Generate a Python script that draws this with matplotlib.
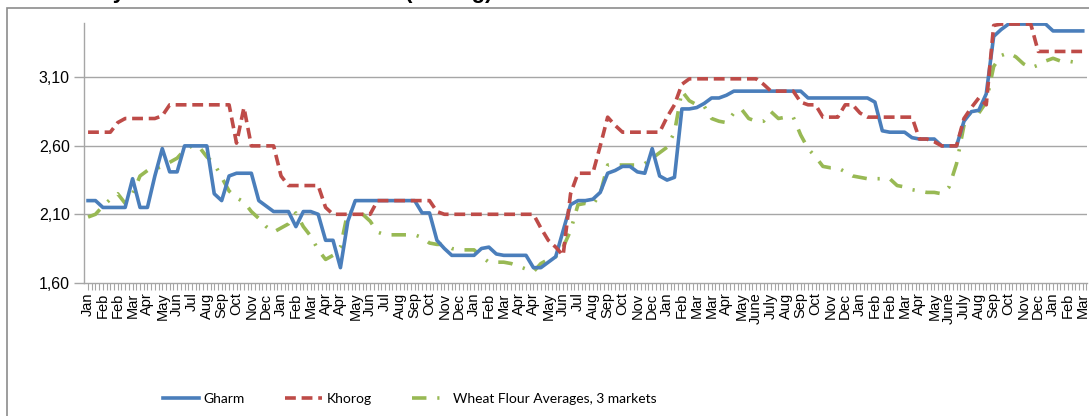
import numpy as np
import matplotlib
matplotlib.use('Agg')
import matplotlib.pyplot as plt
from matplotlib.patches import Rectangle

# ===================== DATA =====================
# month label every 4 weeks, one value every 2 weeks
month_labels = ['Jan', 'Feb', 'Feb', 'Mar', 'Apr', 'May', 'Jun', 'Jul', 'Aug', 'Sep', 'Oct', 'Nov', 'Dec',
                'Jan', 'Feb', 'Mar', 'Apr', 'Apr', 'May', 'Jun', 'Jul', 'Aug', 'Sep', 'Oct', 'Nov', 'Dec',
                'Jan', 'Feb', 'Mar', 'Apr', 'Apr', 'May', 'Jun', 'Jul', 'Aug', 'Sep', 'Oct', 'Nov', 'Dec',
                'Jan', 'Feb', 'Mar', 'Mar', 'Apr', 'May', 'June', 'July', 'Aug', 'Sep', 'Oct', 'Nov', 'Dec',
                'Jan', 'Feb', 'Feb', 'Mar', 'Apr', 'May', 'June', 'July', 'Aug', 'Sep', 'Oct', 'Nov', 'Dec',
                'Jan', 'Feb', 'Mar']

gharm = [2.20, 2.20, 2.15, 2.15, 2.15, 2.15, 2.36, 2.15, 2.15, 2.38,
         2.58, 2.41, 2.41, 2.60, 2.60, 2.60, 2.60, 2.25, 2.20, 2.38,
         2.40, 2.40, 2.40, 2.20, 2.16, 2.12, 2.12, 2.12, 2.01, 2.12,
         2.12, 2.10, 1.91, 1.91, 1.71, 2.05, 2.20, 2.20, 2.20, 2.20,
         2.20, 2.20, 2.20, 2.20, 2.20, 2.11, 2.11, 1.91, 1.85, 1.80,
         1.80, 1.80, 1.80, 1.85, 1.86, 1.81, 1.80, 1.80, 1.80, 1.80,
         1.71, 1.71, 1.75, 1.79, 1.98, 2.17, 2.20, 2.20, 2.21, 2.26,
         2.40, 2.42, 2.45, 2.45, 2.41, 2.40, 2.58, 2.38, 2.35, 2.37,
         2.87, 2.87, 2.88, 2.91, 2.95, 2.95, 2.97, 3.00, 3.00, 3.00,
         3.00, 3.00, 3.00, 3.00, 3.00, 3.00, 3.00, 2.95, 2.95, 2.95,
         2.95, 2.95, 2.95, 2.95, 2.95, 2.95, 2.92, 2.71, 2.70, 2.70,
         2.70, 2.66, 2.65, 2.65, 2.65, 2.60, 2.60, 2.60, 2.78, 2.85,
         2.86, 2.98, 3.40, 3.45, 3.49, 3.49, 3.49, 3.49, 3.49, 3.49,
         3.44, 3.44, 3.44, 3.44, 3.44]

khorog = [2.70, 2.70, 2.70, 2.70, 2.77, 2.80, 2.80, 2.80, 2.80, 2.80,
          2.82, 2.90, 2.90, 2.90, 2.90, 2.90, 2.90, 2.90, 2.90, 2.90,
          2.62, 2.88, 2.60, 2.60, 2.60, 2.60, 2.38, 2.31, 2.31, 2.31,
          2.31, 2.31, 2.15, 2.10, 2.10, 2.10, 2.10, 2.10, 2.10, 2.20,
          2.20, 2.20, 2.20, 2.20, 2.20, 2.20, 2.20, 2.12, 2.10, 2.10,
          2.10, 2.10, 2.10, 2.10, 2.10, 2.10, 2.10, 2.10, 2.10, 2.10,
          2.10, 2.00, 1.91, 1.86, 1.80, 2.25, 2.40, 2.40, 2.40, 2.60,
          2.81, 2.75, 2.70, 2.70, 2.70, 2.70, 2.70, 2.70, 2.81, 2.90,
          3.05, 3.09, 3.09, 3.09, 3.09, 3.09, 3.09, 3.09, 3.09, 3.09,
          3.09, 3.05, 3.00, 3.00, 3.00, 3.00, 2.92, 2.90, 2.90, 2.81,
          2.81, 2.81, 2.90, 2.90, 2.84, 2.81, 2.81, 2.81, 2.81, 2.81,
          2.81, 2.81, 2.65, 2.65, 2.63, 2.60, 2.60, 2.60, 2.80, 2.88,
          2.95, 2.90, 3.48, 3.49, 3.49, 3.49, 3.49, 3.49, 3.29, 3.29,
          3.29, 3.29, 3.29, 3.29, 3.29]

wheat_avg = [2.08, 2.10, 2.16, 2.21, 2.25, 2.18, 2.25, 2.38, 2.42, 2.43,
             2.45, 2.48, 2.51, 2.57, 2.60, 2.59, 2.52, 2.47, 2.37, 2.27,
             2.22, 2.19, 2.12, 2.07, 2.01, 1.97, 2.00, 2.03, 2.11, 2.01,
             1.94, 1.84, 1.77, 1.80, 1.86, 2.12, 2.11, 2.10, 2.05, 1.97,
             1.95, 1.95, 1.95, 1.95, 1.95, 1.93, 1.89, 1.88, 1.88, 1.85,
             1.84, 1.84, 1.84, 1.79, 1.75, 1.75, 1.75, 1.74, 1.72, 1.70,
             1.68, 1.74, 1.77, 1.79, 1.86, 1.98, 2.17, 2.18, 2.17, 2.25,
             2.46, 2.46, 2.46, 2.46, 2.46, 2.47, 2.51, 2.55, 2.59, 2.70,
             3.00, 2.93, 2.90, 2.89, 2.80, 2.78, 2.77, 2.84, 2.87, 2.80,
             2.78, 2.78, 2.85, 2.80, 2.81, 2.81, 2.68, 2.58, 2.52, 2.45,
             2.44, 2.44, 2.41, 2.38, 2.37, 2.36, 2.36, 2.36, 2.36, 2.31,
             2.30, 2.28, 2.27, 2.26, 2.26, 2.25, 2.30, 2.47, 2.75, 2.86,
             2.84, 2.92, 3.18, 3.26, 3.28, 3.25, 3.20, 3.17, 3.19, 3.22,
             3.24, 3.22, 3.22, 3.21, 3.19]

y_ticks = [1.60, 2.10, 2.60, 3.10]
y_tick_labels = ['1,60', '2,10', '2,60', '3,10']

weeks = np.arange(len(gharm)) * 2
label_weeks = np.arange(len(month_labels)) * 4

# ===================== PLOT =====================
fig = plt.figure(figsize=(10.89, 4.16), dpi=100)
ax = fig.add_axes([0.0769, 0.3204, 0.9211, 0.625])

for y in y_ticks[1:]:
    ax.axhline(y, color='#a6a6a6', lw=1, zorder=1)

ax.plot(weeks, gharm, color='#4a7ebb', lw=2.6, label='Gharm', zorder=3)
ax.plot(weeks, khorog, color='#be4b48', lw=2.6, dashes=(3, 1.6), label='Khorog', zorder=4)
ax.plot(weeks, wheat_avg, color='#98b954', lw=2.6, dashes=(4, 3, 0.6, 3),
        label='Wheat Flour Averages, 3 markets', zorder=2)

ax.set_ylim(1.6, 3.5)
ax.set_xlim(-1.16, 269.1)
ax.set_yticks(y_ticks)
ax.set_yticklabels(y_tick_labels, fontsize=11.5, family='Liberation Sans')
ax.set_xticks(label_weeks)
ax.set_xticklabels(month_labels, rotation=90, fontsize=10.5, family='Liberation Sans', va='top')
ax.set_xticks(np.arange(0, 270, 1), minor=True)
ax.tick_params(axis='x', which='both', length=5, color='#a6a6a6', width=0.8, pad=2)
ax.tick_params(axis='y', length=7, color='#a6a6a6', width=1, pad=3)

for s in ['top', 'right']:
    ax.spines[s].set_visible(False)
for s in ['left', 'bottom']:
    ax.spines[s].set_color('#a6a6a6')
    ax.spines[s].set_linewidth(1)

leg = fig.legend(loc='center', bbox_to_anchor=(0.376, 0.041), ncol=3, frameon=False,
                 handlelength=2.66, columnspacing=2.9, handletextpad=0.3,
                 prop={'family': ['Lato', 'DejaVu Sans'], 'size': 10})

# cut-off title and outer chart border
fig.text(0.045, 1.004, 'Weekly Wheat Flour Retail Prices (TJS/kg)', fontsize=16, weight='bold',
         va='baseline', family='Liberation Sans')
fig.patches.append(Rectangle((7 / 1089, -0.1), 1.2, 1.1 - 8 / 416, transform=fig.transFigure,
                             fill=False, edgecolor='#8c8c8c', lw=1.2))

fig.savefig('out.png', dpi=100)
